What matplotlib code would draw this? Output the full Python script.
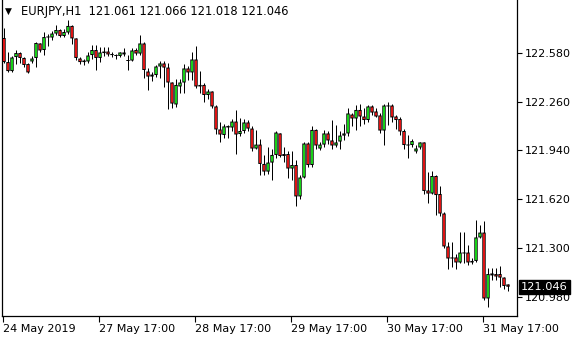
import matplotlib
matplotlib.use('Agg')
import matplotlib.pyplot as plt
import numpy as np

plt.rcParams['font.family'] = 'DejaVu Sans'

# EURJPY H1 candles, 24 May 2019 17:00 .. 31 May 2019 23:00
opens = [
    122.677, 122.519, 122.460, 122.552, 122.578, 122.546, 122.506, 122.523, 122.546, 122.641,
    122.598, 122.680, 122.680, 122.706, 122.729, 122.690, 122.713, 122.756, 122.674, 122.542,
    122.529, 122.523, 122.565, 122.598, 122.546, 122.578, 122.588, 122.572, 122.565, 122.559,
    122.582, 122.526, 122.529, 122.598, 122.575, 122.641, 122.457, 122.424, 122.434, 122.490,
    122.510, 122.483, 122.385, 122.241, 122.359, 122.385, 122.477, 122.451, 122.536, 122.359,
    122.369, 122.303, 122.326, 122.228, 122.077, 122.041, 122.090, 122.090, 122.129, 122.047,
    122.067, 122.123, 122.083, 121.952, 121.978, 121.851, 121.801, 121.860, 121.910, 122.051,
    121.903, 121.916, 121.821, 121.844, 121.638, 121.762, 121.985, 121.844, 122.074, 121.952,
    121.978, 122.051, 122.005, 121.972, 121.998, 122.037, 122.051, 122.175, 122.149, 122.205,
    122.162, 122.139, 122.228, 122.195, 122.169, 122.070, 122.234, 122.234, 122.162, 122.146,
    122.067, 121.978, 121.975, 121.933, 121.959, 121.992, 121.677, 121.657, 121.772, 121.654,
    121.526, 121.310, 121.238, 121.238, 121.205, 121.270, 121.270, 121.215, 121.215, 121.369,
    121.401, 120.969, 121.133, 121.129, 121.129, 121.106, 121.061]
highs = [
    122.742, 122.585, 122.559, 122.595, 122.585, 122.552, 122.513, 122.556, 122.651, 122.647,
    122.719, 122.703, 122.726, 122.765, 122.739, 122.733, 122.798, 122.762, 122.677, 122.552,
    122.541, 122.585, 122.628, 122.631, 122.620, 122.621, 122.618, 122.588, 122.572, 122.588,
    122.608, 122.565, 122.608, 122.608, 122.697, 122.651, 122.480, 122.451, 122.500, 122.523,
    122.523, 122.510, 122.388, 122.411, 122.411, 122.506, 122.493, 122.585, 122.624, 122.460,
    122.379, 122.342, 122.329, 122.238, 122.123, 122.110, 122.106, 122.149, 122.205, 122.152,
    122.149, 122.139, 122.097, 122.074, 122.014, 121.910, 121.965, 121.952, 122.064, 122.057,
    121.965, 121.933, 121.933, 121.874, 121.778, 121.998, 121.998, 122.100, 122.077, 121.998,
    122.074, 122.070, 122.142, 122.106, 122.064, 122.116, 122.221, 122.182, 122.238, 122.247,
    122.215, 122.238, 122.238, 122.215, 122.182, 122.241, 122.254, 122.241, 122.175, 122.162,
    122.083, 122.041, 122.014, 121.975, 121.998, 121.998, 121.795, 121.805, 121.778, 121.706,
    121.533, 121.336, 121.336, 121.261, 121.408, 121.408, 121.320, 121.234, 121.483, 121.451,
    121.480, 121.172, 121.172, 121.172, 121.182, 121.110, 121.066]
lows = [
    122.513, 122.454, 122.454, 122.506, 122.513, 122.487, 122.447, 122.513, 122.487, 122.582,
    122.565, 122.624, 122.664, 122.697, 122.685, 122.683, 122.706, 122.638, 122.533, 122.506,
    122.500, 122.513, 122.539, 122.467, 122.521, 122.559, 122.556, 122.552, 122.539, 122.549,
    122.556, 122.467, 122.523, 122.565, 122.565, 122.415, 122.333, 122.392, 122.418, 122.415,
    122.356, 122.211, 122.218, 122.224, 122.316, 122.316, 122.401, 122.401, 122.352, 122.313,
    122.260, 122.280, 122.221, 122.047, 121.992, 122.021, 122.018, 122.070, 121.913, 122.037,
    122.051, 122.070, 121.939, 121.946, 121.778, 121.778, 121.788, 121.746, 121.887, 121.897,
    121.867, 121.762, 121.749, 121.572, 121.624, 121.756, 121.828, 121.828, 121.952, 121.942,
    121.965, 121.985, 121.946, 121.965, 121.952, 122.008, 122.037, 122.097, 122.074, 122.097,
    122.110, 122.123, 122.172, 122.156, 122.051, 121.975, 122.106, 122.129, 122.083, 122.044,
    121.949, 121.893, 121.959, 121.926, 121.949, 121.657, 121.598, 121.654, 121.516, 121.510,
    121.303, 121.165, 121.178, 121.162, 121.201, 121.201, 121.188, 121.195, 121.211, 121.365,
    120.959, 120.910, 121.090, 121.093, 121.044, 121.034, 121.018]
closes = [
    122.519, 122.460, 122.549, 122.578, 122.546, 122.500, 122.451, 122.542, 122.644, 122.595,
    122.683, 122.687, 122.706, 122.729, 122.690, 122.716, 122.756, 122.674, 122.546, 122.519,
    122.519, 122.562, 122.598, 122.546, 122.582, 122.588, 122.569, 122.565, 122.559, 122.582,
    122.569, 122.529, 122.595, 122.575, 122.641, 122.467, 122.424, 122.437, 122.490, 122.510,
    122.483, 122.385, 122.247, 122.369, 122.385, 122.477, 122.451, 122.536, 122.359, 122.369,
    122.303, 122.326, 122.228, 122.077, 122.044, 122.097, 122.100, 122.129, 122.044, 122.067,
    122.123, 122.083, 121.952, 121.978, 121.851, 121.801, 121.860, 121.910, 122.057, 121.903,
    121.916, 121.821, 121.844, 121.638, 121.762, 121.985, 121.844, 122.074, 121.972, 121.978,
    122.051, 122.005, 121.972, 121.992, 122.037, 122.051, 122.182, 122.149, 122.205, 122.162,
    122.139, 122.228, 122.188, 122.162, 122.070, 122.234, 122.228, 122.156, 122.139, 122.064,
    121.975, 121.972, 122.001, 121.952, 121.992, 121.674, 121.657, 121.772, 121.647, 121.526,
    121.310, 121.231, 121.231, 121.205, 121.270, 121.264, 121.205, 121.205, 121.369, 121.401,
    120.969, 121.129, 121.120, 121.113, 121.106, 121.051, 121.046]

price_ticks = [122.580, 122.260, 121.940, 121.620, 121.300, 120.980]
date_tick_bars = [0, 24, 48, 72, 96, 120]
date_labels = ['24 May 2019', '27 May 17:00', '28 May 17:00',
               '29 May 17:00', '30 May 17:00', '31 May 17:00']
symbol = 'EURJPY,H1'
last_price = closes[-1]

W, H = 580, 340
fig = plt.figure(figsize=(W / 100, H / 100), dpi=100)
# plot box 2..517 px wide, top of image down to y=316
ax = fig.add_axes([2 / W, 24 / H, 515 / W, 316 / H])

y_min, y_max = 120.854, 122.926
px = (y_max - y_min) / 316          # one pixel in price units
ax.set_xlim(-0.5, -0.5 + 515 / 4)  # 4 px per bar
ax.set_ylim(y_min, y_max)

o = np.array(opens)
c = np.array(closes)
x = np.arange(len(o))
up = c >= o
bull, bear = '#18d018', '#dc1414'

top = np.maximum(o, c)
bot = np.minimum(o, c)
h_body = np.maximum(top - bot, px)

# wicks, black body outline, coloured fill
ax.vlines(x - 0.125, lows, highs, color='black', linewidth=0.72, zorder=1)
ax.bar(x, h_body, bottom=bot, width=0.85, color='black', linewidth=0, zorder=2, snap=False)
core_h = np.clip(h_body - 2 * px, 0, None)
ax.bar(x[up], core_h[up], bottom=bot[up] + px, width=0.5, color=bull,
       linewidth=0, zorder=3, snap=False)
ax.bar(x[~up], core_h[~up], bottom=bot[~up] + px, width=0.5, color=bear,
       linewidth=0, zorder=3, snap=False)

for s in ['left', 'right', 'bottom']:
    ax.spines[s].set_linewidth(0.9)
    ax.spines[s].set_color('black')
ax.spines['top'].set_visible(False)

ax.yaxis.tick_right()
ax.set_yticks(price_ticks)
ax.set_yticklabels([f'{v:.3f}' for v in price_ticks])
ax.tick_params(axis='y', direction='out', length=3.5, width=0.8, pad=2, labelsize=8)

ax.set_xticks([b - 0.25 for b in date_tick_bars])
ax.set_xticklabels(date_labels)
ax.tick_params(axis='x', direction='out', length=4, width=0.8, pad=1.5, labelsize=8)
for lbl in ax.get_xticklabels():
    lbl.set_horizontalalignment('left')

ax.annotate(f'{last_price:.3f}', xy=(1, last_price), xycoords=('axes fraction', 'data'),
            xytext=(3, 0), textcoords='offset points', ha='left', va='center',
            fontsize=8.2, color='white',
            bbox=dict(boxstyle='square,pad=0.18', fc='black', ec='black'))

fig.text(5 / W, 1 - 11 / H, '\u25bc', fontsize=6.5, va='center', ha='left')
fig.text(21 / W, 1 - 12 / H,
         f'{symbol}  {opens[-1]:.3f} {highs[-1]:.3f} {lows[-1]:.3f} {closes[-1]:.3f}',
         fontsize=8.3, va='center', ha='left')

fig.savefig('out.png', dpi=100)
